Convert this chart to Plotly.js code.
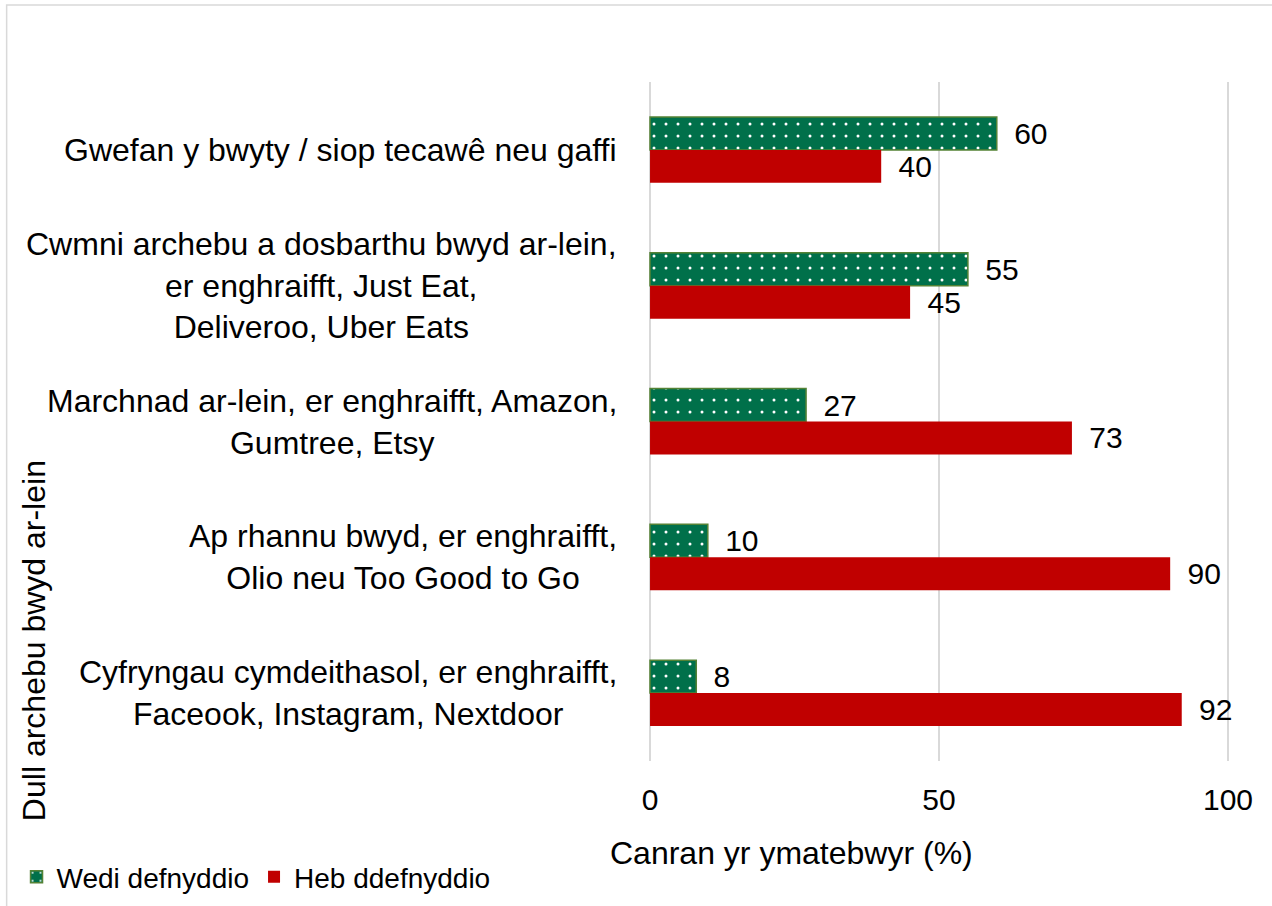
<!DOCTYPE html>
<html>
<head>
<meta charset="utf-8">
<script src="https://cdn.plot.ly/plotly-3.0.1.min.js"></script>
<style>html,body{margin:0;padding:0;background:#fff;}#chart{width:1272px;height:906px;}</style>
</head>
<body>
<div id="chart"></div>
<script>
const categories = [
  "Gwefan y bwyty / siop tecawê neu gaffi",
  "Cwmni archebu a dosbarthu bwyd ar-lein,<br>er enghraifft, Just Eat,<br>Deliveroo, Uber Eats",
  "Marchnad ar-lein, er enghraifft, Amazon,<br>Gumtree, Etsy",
  "Ap rhannu bwyd, er enghraifft,<br>Olio neu Too Good to Go",
  "Cyfryngau cymdeithasol, er enghraifft,<br>Faceook, Instagram, Nextdoor"
];
const usedValues = [60, 55, 27, 10, 8];
const notUsedValues = [40, 45, 73, 90, 92];
const seriesNames = ["Wedi defnyddio", "Heb ddefnyddio"];
const xTickValues = [0, 50, 100];
const xTitle = "Canran yr ymatebwyr (%)";
const yTitle = "Dull archebu bwyd ar-lein";

const FONT = '"Liberation Sans", Arial, sans-serif';
const FS = 30;
const FS_LABEL = 32;

const traces = [
  {
    type: 'bar', orientation: 'h', name: seriesNames[0],
    y: categories, x: usedValues,
    marker: {
      color: '#00704A',
      line: {color: '#548235', width: 1.5},
      pattern: {shape: '.', fgcolor: '#ffffff', bgcolor: '#00704A', size: 12, solidity: 0.05}
    },
    text: usedValues.map(String),
    texttemplate: '\u00a0\u2009%{text}',
    textposition: 'outside', cliponaxis: false, constraintext: 'none',
    textfont: {family: FONT, size: FS, color: '#000'},
    hoverinfo: 'x+name'
  },
  {
    type: 'bar', orientation: 'h', name: seriesNames[1],
    y: categories, x: notUsedValues,
    marker: {color: '#C00000', line: {color: '#C00000', width: 0}},
    text: notUsedValues.map(String),
    texttemplate: '\u00a0\u2009%{text}',
    textposition: 'outside', cliponaxis: false, constraintext: 'none',
    textfont: {family: FONT, size: FS, color: '#000'},
    hoverinfo: 'x+name'
  }
];

const annotations = categories.map(c => ({
  xref: 'paper', yref: 'y', x: -0.05, y: c, text: c,
  xanchor: 'right', yanchor: 'middle', align: 'center', showarrow: false,
  font: {family: FONT, size: FS_LABEL, color: '#000'}
}));
annotations.push({
  xref: 'paper', yref: 'paper', x: -1.055, y: 0.178, text: yTitle, textangle: -90,
  xanchor: 'center', yanchor: 'middle', showarrow: false,
  font: {family: FONT, size: FS_LABEL, color: '#000'}
});
annotations.push({
  xref: 'paper', yref: 'paper', x: 0.247, y: -0.1355, text: xTitle,
  xanchor: 'center', yanchor: 'middle', showarrow: false,
  font: {family: FONT, size: FS_LABEL, color: '#000'}
});

const layout = {
  width: 1272, height: 906,
  margin: {l: 648, r: 42, t: 82, b: 145},
  paper_bgcolor: '#fff', plot_bgcolor: '#fff',
  barmode: 'group', bargap: 0.515, bargroupgap: 0,
  font: {family: FONT, size: FS, color: '#000'},
  xaxis: {
    range: [-0.35, 100.35], tickvals: xTickValues, ticktext: xTickValues.map(String),
    showgrid: true, gridcolor: '#D9D9D9', gridwidth: 2, zeroline: false,
    showline: false, ticks: '', ticklabelstandoff: 18,
    tickfont: {family: FONT, size: FS, color: '#000'},
    fixedrange: true
  },
  yaxis: {
    autorange: 'reversed', showticklabels: false, showgrid: false, zeroline: false,
    showline: false, ticks: '', fixedrange: true
  },
  showlegend: true,
  legend: {
    orientation: 'h', xref: 'container', yref: 'container',
    x: 0.013, y: 0.032, xanchor: 'left', yanchor: 'middle',
    font: {family: FONT, size: 28, color: '#000'}, traceorder: 'normal'
  },
  annotations: annotations,
  shapes: [{
    type: 'rect', xref: 'paper', yref: 'paper', x0: -1.102, x1: 1.0738, y0: -0.4, y1: 1.1134,
    line: {color: '#D9D9D9', width: 1.5}, fillcolor: 'rgba(0,0,0,0)', layer: 'below'
  }]
};

Plotly.newPlot('chart', traces, layout, {displayModeBar: false, staticPlot: true});
</script>
</body>
</html>
